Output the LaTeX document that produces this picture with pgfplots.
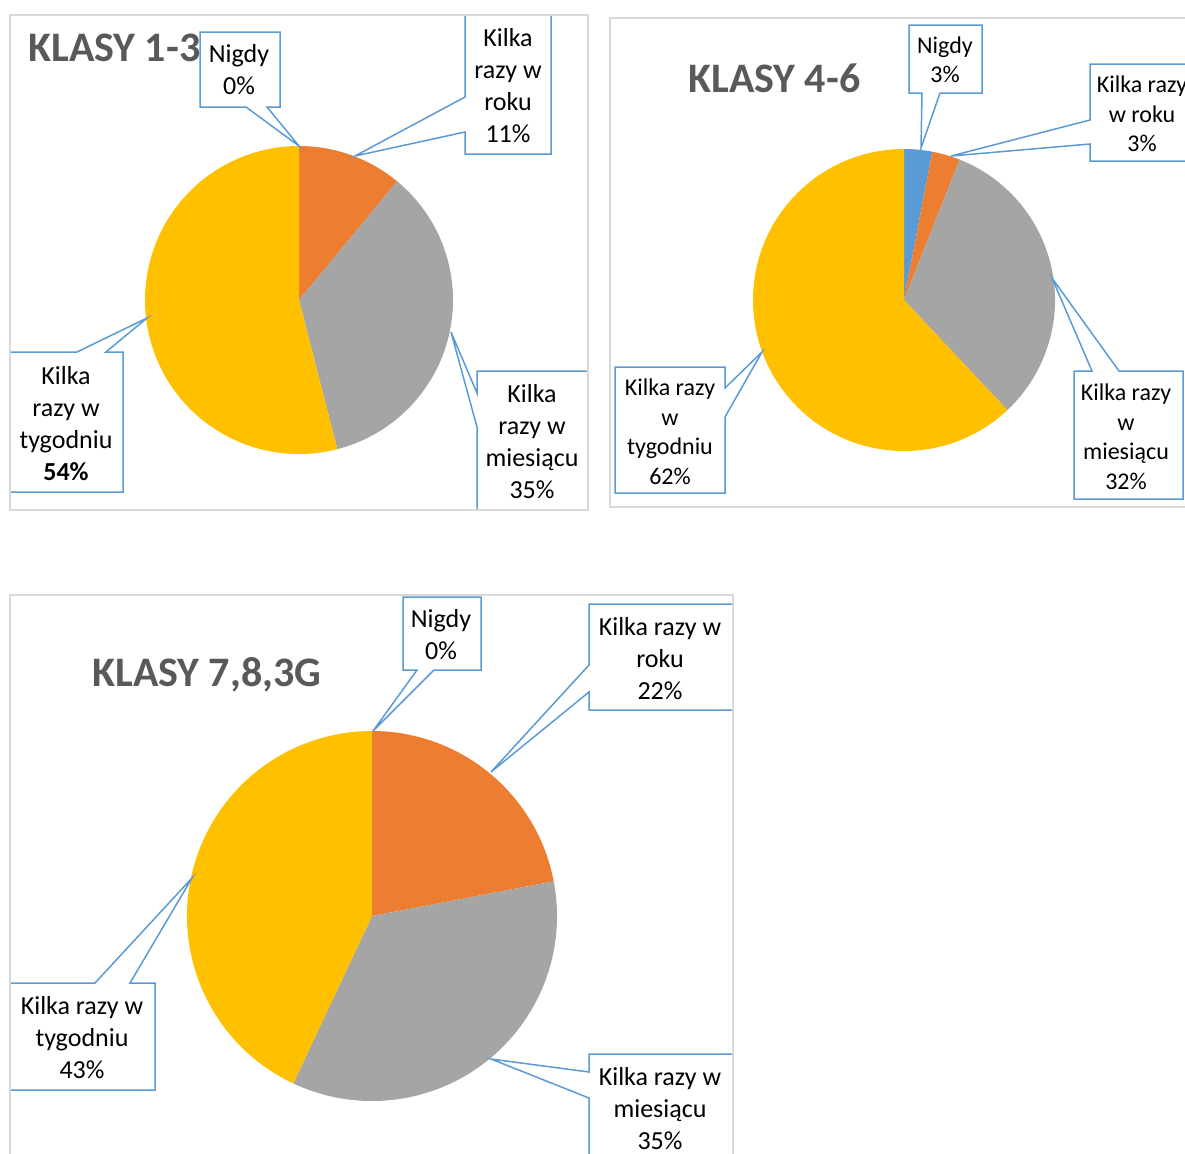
\documentclass[border=0pt]{standalone}
\usepackage{pgfplots}
\pgfplotsset{compat=1.18}
\usepackage{fontspec}
\setmainfont{Carlito}
\definecolor{cblue}{HTML}{5B9BD5}
\definecolor{corange}{HTML}{ED7D31}
\definecolor{cgray}{HTML}{A5A5A5}
\definecolor{cyellow}{HTML}{FFC000}
\definecolor{cframe}{HTML}{D9D9D9}
\definecolor{ctitle}{HTML}{595959}
\begin{document}
\begin{tikzpicture}
\useasboundingbox (0,0) rectangle (592.5pt,576.5pt);
\clip (0,0) rectangle (592.5pt,576.5pt);
\begin{axis}[at={(0,0)}, anchor=south west, width=592.5pt, height=576.5pt,
  scale only axis, xmin=0, xmax=1185, ymin=0, ymax=1153, y dir=reverse,
  hide axis, clip=false]
% ---------------- KLASY 1-3 : Nigdy 0, roku 11, miesiacu 35, tygodniu 54
\fill[corange] (299,300) -- ++({90-3.6*0}:77pt) arc[start angle={90-3.6*0}, end angle={90-3.6*11}, radius=77pt] -- cycle;
\fill[cgray] (299,300) -- ++({90-3.6*11}:77pt) arc[start angle={90-3.6*11}, end angle={90-3.6*46}, radius=77pt] -- cycle;
\fill[cyellow] (299,300) -- ++({90-3.6*46}:77pt) arc[start angle={90-3.6*46}, end angle={90-3.6*100}, radius=77pt] -- cycle;
% ---------------- KLASY 4-6 : Nigdy 3, roku 3, miesiacu 32, tygodniu 62
\fill[cblue] (904,300) -- ++({90-3.6*0}:75.5pt) arc[start angle={90-3.6*0}, end angle={90-3.6*3}, radius=75.5pt] -- cycle;
\fill[corange] (904,300) -- ++({90-3.6*3}:75.5pt) arc[start angle={90-3.6*3}, end angle={90-3.6*6}, radius=75.5pt] -- cycle;
\fill[cgray] (904,300) -- ++({90-3.6*6}:75.5pt) arc[start angle={90-3.6*6}, end angle={90-3.6*38}, radius=75.5pt] -- cycle;
\fill[cyellow] (904,300) -- ++({90-3.6*38}:75.5pt) arc[start angle={90-3.6*38}, end angle={90-3.6*100}, radius=75.5pt] -- cycle;
% ---------------- KLASY 7,8,3G : Nigdy 0, roku 22, miesiacu 35, tygodniu 43
\fill[corange] (372,916) -- ++({90-3.6*0}:92.5pt) arc[start angle={90-3.6*0}, end angle={90-3.6*22}, radius=92.5pt] -- cycle;
\fill[cgray] (372,916) -- ++({90-3.6*22}:92.5pt) arc[start angle={90-3.6*22}, end angle={90-3.6*57}, radius=92.5pt] -- cycle;
\fill[cyellow] (372,916) -- ++({90-3.6*57}:92.5pt) arc[start angle={90-3.6*57}, end angle={90-3.6*100}, radius=92.5pt] -- cycle;

% ---------------- callouts panel 1
\filldraw[fill=white, draw=cblue, line width=0.75pt] (200,32) -- (280,32) -- (280,107) -- (267,107) -- (299,146) -- (246,107) -- (200,107) -- cycle;
\filldraw[fill=white, draw=cblue, line width=0.75pt] (465,15) -- (551,15) -- (551,154) -- (465,154) -- (465,132) -- (355,156) -- (465,97) -- cycle;
\filldraw[fill=white, draw=cblue, line width=0.75pt] (477,371) -- (588,371) -- (588,510) -- (477,510) -- (477,427) -- (451,332) -- (477,393) -- cycle;
\filldraw[fill=white, draw=cblue, line width=0.75pt] (10,352) -- (77,352) -- (147,318) -- (106,352) -- (123,352) -- (123,492) -- (10,492) -- cycle;
\begin{scope}[every node/.style={align=center, inner sep=0pt, font=\fontsize{13}{16}\selectfont}]
\node at (239,70) {Nigdy\\0\%};
\node at (508,86) {Kilka\\razy w\\roku\\11\%};
\node at (532,442) {Kilka\\razy w\\miesiącu\\35\%};
\node at (66,424) {Kilka\\razy w\\tygodniu\\\textbf{54\%}};
\end{scope}
% ---------------- callouts panel 2
\filldraw[fill=white, draw=cblue, line width=0.75pt] (909,25) -- (982,25) -- (982,93) -- (940,93) -- (921,148) -- (922,93) -- (909,93) -- cycle;
\filldraw[fill=white, draw=cblue, line width=0.75pt] (1090,64) -- (1200,64) -- (1200,161) -- (1090,161) -- (1090,144) -- (951,156) -- (1090,120) -- cycle;
\filldraw[fill=white, draw=cblue, line width=0.75pt] (1074,371) -- (1092,371) -- (1052,278) -- (1119,371) -- (1183,371) -- (1183,499) -- (1074,499) -- cycle;
\filldraw[fill=white, draw=cblue, line width=0.75pt] (615,367) -- (725,367) -- (725,388) -- (762,352) -- (725,417) -- (725,493) -- (615,493) -- cycle;
\begin{scope}[every node/.style={align=center, inner sep=0pt, font=\fontsize{12}{14.75}\selectfont}]
\node at (945,60) {Nigdy\\3\%};
\node at (1142,114) {Kilka razy\\w roku\\3\%};
\node at (1126,437) {Kilka razy\\w\\miesiącu\\32\%};
\node at (670,432) {Kilka razy\\w\\tygodniu\\62\%};
\end{scope}
% ---------------- callouts panel 3
\filldraw[fill=white, draw=cblue, line width=0.75pt] (403,597) -- (481,597) -- (481,670) -- (434,670) -- (373,731) -- (417,670) -- (403,670) -- cycle;
\filldraw[fill=white, draw=cblue, line width=0.75pt] (589,604) -- (733,604) -- (733,710) -- (589,710) -- (589,692) -- (491,772) -- (589,665) -- cycle;
\filldraw[fill=white, draw=cblue, line width=0.75pt] (589,1054) -- (733,1054) -- (733,1170) -- (589,1170) -- (589,1098) -- (491,1059) -- (589,1072) -- cycle;
\filldraw[fill=white, draw=cblue, line width=0.75pt] (10,983) -- (95,983) -- (192,878) -- (130,983) -- (155,983) -- (155,1090) -- (10,1090) -- cycle;
\begin{scope}[every node/.style={align=center, inner sep=0pt, font=\fontsize{13}{16}\selectfont}]
\node at (441,635) {Nigdy\\0\%};
\node at (660,659) {Kilka razy w\\roku\\22\%};
\node at (660,1109) {Kilka razy w\\miesiącu\\35\%};
\node at (82,1038) {Kilka razy w\\tygodniu\\43\%};
\end{scope}
% ---------------- titles
\node[anchor=west, inner sep=0pt, text=ctitle, font=\fontsize{21}{24}\selectfont\bfseries] at (28,48) {KLASY 1-3};
\node[anchor=west, inner sep=0pt, text=ctitle, font=\fontsize{21}{24}\selectfont\bfseries] at (688,78) {KLASY 4-6};
\node[anchor=west, inner sep=0pt, text=ctitle, font=\fontsize{21}{24}\selectfont\bfseries] at (92,675) {KLASY 7,8,3G};
% ---------------- panel frames
\draw[cframe, line width=0.75pt] (10,15) rectangle (588,510);
\draw[cframe, line width=0.75pt] (610,18) rectangle (1200,507);
\draw[cframe, line width=0.75pt] (10,595) rectangle (733,1170);
\end{axis}
\end{tikzpicture}
\end{document}
